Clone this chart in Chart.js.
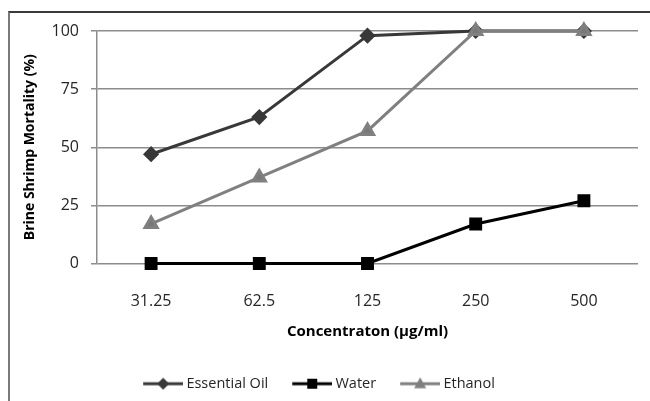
<!DOCTYPE html>
<html>
<head>
<meta charset="utf-8">
<script src="https://cdn.jsdelivr.net/npm/chart.js@4"></script>
<style>
  html, body { margin: 0; padding: 0; background: #fff; }
  #wrap { position: relative; width: 650px; height: 401px; overflow: hidden; }
  #frame {
    position: absolute; left: 8px; top: 11px; width: 700px; height: 500px;
    border-top: 2px solid #3a3a3a; border-left: 2px solid #7a7a7a;
  }
  canvas { position: absolute; left: 0; top: 0; }
</style>
</head>
<body>
<div id="wrap">
  <div id="frame"></div>
  <canvas id="myChart" width="650" height="401"></canvas>
</div>
<script>
const concentrations = ['31.25', '62.5', '125', '250', '500'];
const essentialOil = [47, 63, 98, 100, 100];
const water = [0, 0, 0, 17, 27];
const ethanol = [17, 37, 57, 100, 100];
const yTicks = [0, 25, 50, 75, 100];

Chart.defaults.font.family = '"Open Sans", sans-serif';
Chart.defaults.color = '#262626';

// legend swatch: line with marker in the middle
function swatch(color, style) {
  const c = document.createElement('canvas');
  c.width = 44; c.height = 16;
  const ctx = c.getContext('2d');
  ctx.strokeStyle = color;
  ctx.lineWidth = 3;
  ctx.beginPath();
  ctx.moveTo(4, 8);
  ctx.lineTo(44, 8);
  ctx.stroke();
  ctx.fillStyle = color;
  ctx.beginPath();
  if (style === 'rectRot') {
    ctx.moveTo(24, 2); ctx.lineTo(30, 8); ctx.lineTo(24, 14); ctx.lineTo(18, 8);
  } else if (style === 'rect') {
    ctx.rect(19, 3, 10, 10);
  } else {
    ctx.moveTo(24, 1.5); ctx.lineTo(30, 12.5); ctx.lineTo(18, 12.5);
  }
  ctx.closePath();
  ctx.fill();
  return c;
}

const config = {
  type: 'line',
  data: {
    labels: concentrations,
    datasets: [
      {
        label: 'Essential Oil',
        data: essentialOil,
        borderColor: '#383838',
        backgroundColor: '#383838',
        borderWidth: 3,
        pointStyle: 'rectRot',
        pointRadius: 6,
        pointHoverRadius: 6,
        tension: 0,
        clip: false,
        order: 2,
      },
      {
        label: 'Water',
        data: water,
        borderColor: '#000000',
        backgroundColor: '#000000',
        borderWidth: 3,
        pointStyle: 'rect',
        pointRadius: 7,
        pointHoverRadius: 7,
        tension: 0,
        clip: false,
        order: 1,
      },
      {
        label: 'Ethanol',
        data: ethanol,
        borderColor: '#808080',
        backgroundColor: '#787878',
        borderWidth: 3,
        pointStyle: 'triangle',
        pointRadius: 7,
        pointHoverRadius: 7,
        tension: 0,
        clip: false,
        order: 0,
      },
    ],
  },
  options: {
    responsive: false,
    animation: false,
    layout: { padding: { top: 31, right: 12, left: 0, bottom: 0 } },
    plugins: {
      tooltip: { enabled: false },
      legend: {
        position: 'bottom',
        labels: {
          usePointStyle: true,
          pointStyleWidth: 36,
          padding: 24,
          color: '#262626',
          font: { size: 14.5 },
          generateLabels: (chart) => {
            const items = Chart.defaults.plugins.legend.labels.generateLabels(chart);
            items.sort((a, b) => a.datasetIndex - b.datasetIndex);
            items.forEach((it) => {
              const ds = chart.data.datasets[it.datasetIndex];
              it.pointStyle = swatch(ds.borderColor, ds.pointStyle);
            });
            return items;
          },
        },
      },
    },
    scales: {
      x: {
        offset: true,
        grid: { display: false },
        border: { display: false },
        ticks: { padding: 20, font: { size: 16 }, color: '#262626' },
        title: {
          display: true,
          text: 'Concentraton (µg/ml)',
          color: '#000',
          font: { size: 15, weight: 'bold' },
          padding: { top: 0, bottom: 12 },
        },
        afterFit: (scale) => { scale.height = 89; },
      },
      y: {
        min: 0,
        max: 100,
        afterBuildTicks: (scale) => { scale.ticks = yTicks.map((v) => ({ value: v })); },
        grid: { color: '#8c8c8c', lineWidth: 1.5, tickLength: 6 },
        border: { display: true, color: '#8c8c8c', width: 1.5 },
        ticks: { padding: 12, font: { size: 16 }, color: '#262626' },
        title: {
          display: true,
          text: 'Brine Shrimp Mortality (%)',
          color: '#000',
          font: { size: 14, weight: 'bold' },
          padding: { top: 22, bottom: 0 },
        },
        afterFit: (scale) => { scale.width = 97; },
      },
    },
  },
};

const myChart = new Chart(document.getElementById('myChart'), config);
</script>
</body>
</html>
